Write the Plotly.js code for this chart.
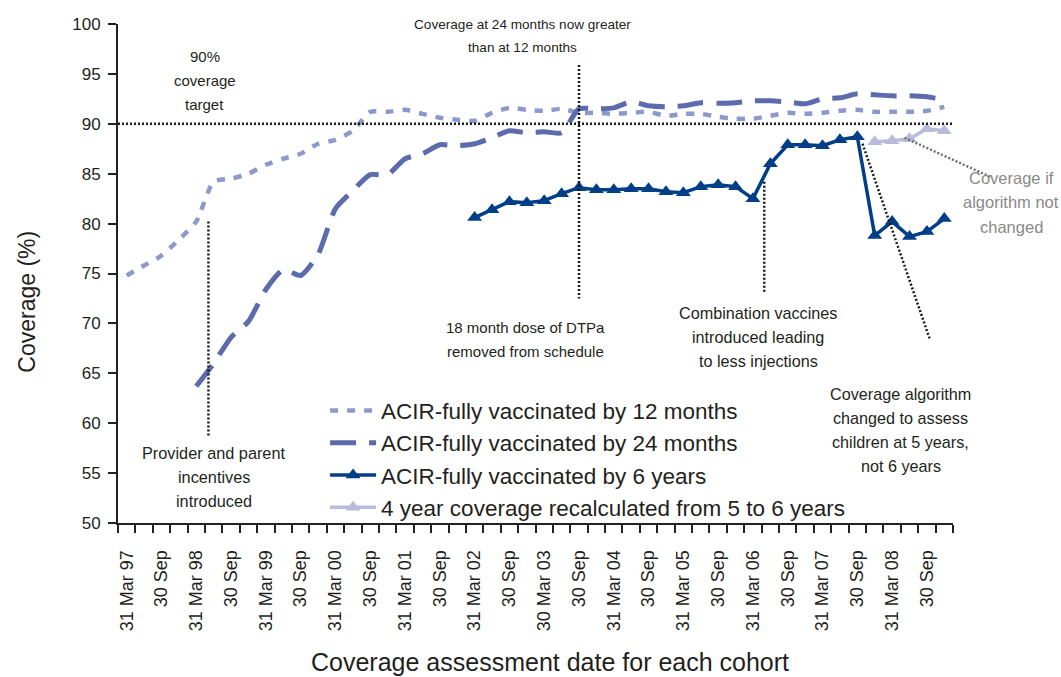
<!DOCTYPE html>
<html>
<head>
<meta charset="utf-8">
<script src="https://cdn.plot.ly/plotly-3.0.1.min.js"></script>
<style>html,body{margin:0;padding:0;background:#fff;}#chart{width:1061px;height:677px;}</style>
</head>
<body>
<div id="chart"></div>
<script>
// Quarterly cohorts: 31 Mar 97 ... 31 Dec 08
const quarters = [
  "Mar 97","Jun 97","Sep 97","Dec 97","Mar 98","Jun 98","Sep 98","Dec 98",
  "Mar 99","Jun 99","Sep 99","Dec 99","Mar 00","Jun 00","Sep 00","Dec 00",
  "Mar 01","Jun 01","Sep 01","Dec 01","Mar 02","Jun 02","Sep 02","Dec 02",
  "Mar 03","Jun 03","Sep 03","Dec 03","Mar 04","Jun 04","Sep 04","Dec 04",
  "Mar 05","Jun 05","Sep 05","Dec 05","Mar 06","Jun 06","Sep 06","Dec 06",
  "Mar 07","Jun 07","Sep 07","Dec 07","Mar 08","Jun 08","Sep 08","Dec 08"
];
const tickLabels = [
  "31 Mar 97","30 Sep","31 Mar 98","30 Sep","31 Mar 99","30 Sep",
  "31 Mar 00","30 Sep","31 Mar 01","30 Sep","31 Mar 02","30 Sep",
  "30 Mar 03","30 Sep","31 Mar 04","30 Sep","31 Mar 05","30 Sep",
  "31 Mar 06","30 Sep","31 Mar 07","30 Sep","31 Mar 08","30 Sep"
];
const by12months = [
  74.8,75.8,76.8,78.4,80.2,84.2,84.5,85.0,85.9,86.5,87.0,88.0,88.4,89.3,91.2,91.2,
  91.4,91.0,90.6,90.4,90.3,91.1,91.6,91.4,91.3,91.5,91.1,91.1,91.0,91.1,91.2,90.8,
  91.0,91.0,90.7,90.5,90.5,90.8,91.1,91.0,91.1,91.3,91.4,91.2,91.2,91.2,91.3,91.7
];
const by24months = [
  null,null,null,null,63.7,66.0,68.6,70.2,73.4,75.4,74.8,76.9,81.5,83.3,84.9,84.9,
  86.5,87.0,87.9,87.8,88.0,88.6,89.3,89.1,89.2,89.1,91.5,91.5,91.6,92.2,91.8,91.7,
  91.8,92.1,92.05,92.1,92.3,92.3,92.2,92.0,92.5,92.6,93.0,92.9,92.8,92.8,92.7,92.4
];
const by6years = [
  null,null,null,null,null,null,null,null,null,null,null,null,null,null,null,null,
  null,null,null,null,80.6,81.4,82.2,82.1,82.3,83.0,83.6,83.4,83.4,83.5,83.5,83.2,
  83.1,83.7,83.9,83.7,82.5,86.0,87.9,87.9,87.8,88.4,88.7,78.8,80.2,78.7,79.2,80.5
];
const recalc4yr = [
  null,null,null,null,null,null,null,null,null,null,null,null,null,null,null,null,
  null,null,null,null,null,null,null,null,null,null,null,null,null,null,null,null,
  null,null,null,null,null,null,null,null,null,null,null,88.2,88.3,88.5,89.5,89.3
];
const seriesNames = [
  "ACIR-fully vaccinated by 12 months",
  "ACIR-fully vaccinated by 24 months",
  "ACIR-fully vaccinated by 6 years",
  "4 year coverage recalculated from 5 to 6 years"
];

const xIdx = quarters.map((q, i) => i);
const FONT = "Arial, 'Liberation Sans', sans-serif";
const TXT = "#231f20";

const traces = [
  {x: xIdx, y: by12months, name: seriesNames[0], mode: "lines",
   line: {color: "#8e99cb", width: 4.5, dash: "8px,9px", shape: "spline", smoothing: 0.6}},
  {x: xIdx, y: by24months, name: seriesNames[1], mode: "lines",
   line: {color: "#5b6bad", width: 5, dash: "26px,13px", shape: "spline", smoothing: 0.6}},
  {x: xIdx, y: by6years, name: seriesNames[2], mode: "lines+markers",
   line: {color: "#003f87", width: 3.5},
   marker: {symbol: "triangle-up", size: 13, color: "#003f87"}},
  {x: xIdx, y: recalc4yr, name: seriesNames[3], mode: "lines+markers",
   line: {color: "#b8bcdc", width: 3.5},
   marker: {symbol: "triangle-up", size: 13, color: "#b8bcdc"}}
];

// notes: [lines], x (category index), top-line y (value), font size
const notes = [
  {lines: ["90%", "coverage", "target"], x: 4.5, y: 96.7, size: 15},
  {lines: ["Coverage at 24 months now greater", "than at 12 months"], x: 22.75, y: 100.0, size: 13.6},
  {lines: ["18 month dose of DTPa", "removed from schedule"], x: 22.9, y: 69.6, size: 15},
  {lines: ["Provider and parent", "incentives", "introduced"], x: 5.0, y: 57.0, size: 16.3},
  {lines: ["Combination vaccines", "introduced leading", "to less injections"], x: 36.3, y: 71.0, size: 16.2},
  {lines: ["Coverage algorithm", "changed to assess", "children at 5 years,", "not 6 years"], x: 44.5, y: 62.9, size: 16.2}
];
const annotations = [];
notes.forEach(n => n.lines.forEach((t, i) => annotations.push({
  x: n.x, y: n.y - i * 2.4, xref: "x", yref: "y", text: t, showarrow: false,
  xanchor: "center", yanchor: "middle", font: {family: FONT, size: n.size, color: TXT}
})));
["Coverage if", "algorithm not", "changed"].forEach((t, i) => annotations.push({
  x: 1.070, y: 84.6 - i * 2.45, xref: "paper", yref: "y", text: t, showarrow: false,
  xanchor: "center", yanchor: "middle", font: {family: FONT, size: 16.5, color: "#8a8a8a"}
}));
annotations.push({
  x: 0.5, y: -0.279, xref: "paper", yref: "paper", text: "Coverage assessment date for each cohort",
  showarrow: false, xanchor: "center", yanchor: "middle", xshift: 14,
  font: {family: FONT, size: 25, color: TXT}
});
annotations.push({
  x: -0.1093, y: 0.443, xref: "paper", yref: "paper", text: "Coverage (%)", textangle: -90,
  showarrow: false, xanchor: "center", yanchor: "middle",
  font: {family: FONT, size: 23, color: TXT}
});

const dotLine = {color: "#1a1a1a", width: 2.5, dash: "2px,2px"};
const shapes = [
  {type: "line", xref: "x", yref: "y", x0: -0.5, x1: 47.6, y0: 90, y1: 90, line: dotLine},
  {type: "line", xref: "x", yref: "y", x0: 4.7, x1: 4.7, y0: 80.2, y1: 58.6, line: dotLine},
  {type: "line", xref: "x", yref: "y", x0: 26, x1: 26, y0: 95.9, y1: 72.5, line: dotLine},
  {type: "line", xref: "x", yref: "y", x0: 36.65, x1: 36.65, y0: 84.2, y1: 73.0, line: dotLine},
  {type: "line", xref: "x", yref: "y", x0: 42.3, x1: 46.15, y0: 88.0, y1: 68.5, line: dotLine},
  {type: "line", xref: "paper", yref: "paper", x0: 0.942, x1: 1.047, y0: 0.772, y1: 0.692,
   line: {color: "#6e6e6e", width: 2.5, dash: "2px,2px"}}
];

const layout = {
  width: 1061, height: 677,
  margin: {l: 118, r: 108, t: 24, b: 154, pad: 0},
  paper_bgcolor: "#fff", plot_bgcolor: "#fff",
  font: {family: FONT, color: TXT},
  showlegend: true,
  legend: {x: 0.248, y: 0.268, xanchor: "left", yanchor: "top", bgcolor: "rgba(0,0,0,0)",
           font: {family: FONT, size: 22.5, color: TXT}, itemwidth: 46, tracegroupgap: 0},
  xaxis: {
    range: [-0.5, 47.5], showgrid: false, zeroline: false,
    showline: true, linecolor: "#222", linewidth: 2,
    tickmode: "array", tickvals: tickLabels.map((t, i) => i * 2), ticktext: tickLabels,
    ticks: "", tickangle: -90, ticklabelstandoff: 18,
    tickfont: {family: FONT, size: 18, color: TXT},
    minor: {tickmode: "linear", tick0: -0.5, dtick: 1, ticks: "outside", ticklen: 8,
            tickwidth: 2, tickcolor: "#222", showgrid: false}
  },
  yaxis: {
    range: [50, 100], tickmode: "linear", tick0: 50, dtick: 5,
    showgrid: false, zeroline: false, showline: true, linecolor: "#222", linewidth: 2,
    ticks: "outside", ticklen: 8, tickwidth: 2, tickcolor: "#222", ticklabelstandoff: 4,
    tickfont: {family: FONT, size: 17, color: TXT}
  },
  annotations: annotations,
  shapes: shapes
};

Plotly.newPlot("chart", traces, layout, {displayModeBar: false, staticPlot: true});
</script>
</body>
</html>
